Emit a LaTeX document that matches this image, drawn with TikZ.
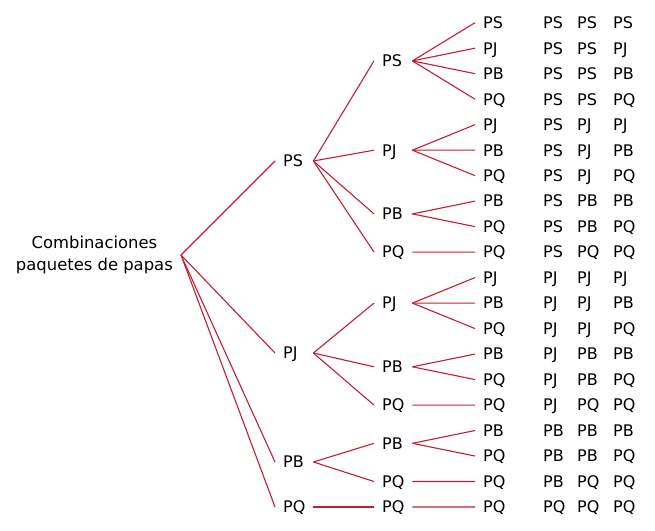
\documentclass[tikz,border=0pt]{standalone}
\usepackage{fontspec}
\setmainfont{DejaVu Sans}
\definecolor{ramared}{RGB}{196,30,48}

\begin{document}
\begin{tikzpicture}[x=1pt, y=-1pt,
  etiqueta/.style={font=\fontsize{16}{19}\selectfont, inner xsep=8pt, inner ysep=0pt, text height=11.7pt, text depth=0pt, anchor=west},
  nivel/.style={etiqueta, text width=22pt, align=left},
  rama/.style={draw=ramared, line width=1.1pt}]

\useasboundingbox (0,0) rectangle (655,530);

\node[font=\fontsize{16.4}{22}\selectfont, align=center, inner xsep=8pt, anchor=east] (raiz) at (181,255) {Combinaciones\\paquetes de papas};

\node[nivel] (PS) at (275,161) {PS};
\node[nivel] (PJ) at (275,353) {PJ};
\node[nivel] (PB) at (275,462) {PB};
\node[nivel] (PQ) at (275,507) {PQ};

\node[nivel] (PS-PS) at (374,60.9) {PS};
\node[nivel] (PS-PJ) at (374,150.2) {PJ};
\node[nivel] (PS-PB) at (374,213.9) {PB};
\node[nivel] (PS-PQ) at (374,252.1) {PQ};
\node[nivel] (PJ-PJ) at (374,303.1) {PJ};
\node[nivel] (PJ-PB) at (374,366.8) {PB};
\node[nivel] (PJ-PQ) at (374,405.1) {PQ};
\node[nivel] (PB-PB) at (374,443.3) {PB};
\node[nivel] (PB-PQ) at (374,481.5) {PQ};
\node[nivel] (PQ-PQ) at (374,507.0) {PQ};

\foreach \hijo in {PS,PJ,PB,PQ}
  \draw[rama] (raiz.east) -- (\hijo.west);
\foreach \padre/\hijo in {PS/PS,PS/PJ,PS/PB,PS/PQ,PJ/PJ,PJ/PB,PJ/PQ,PB/PB,PB/PQ,PQ/PQ}
  \draw[rama] (\padre.east) -- (\padre-\hijo.west);

\foreach \i/\a/\b/\c/\padre in {0/PS/PS/PS/PS-PS, 1/PS/PS/PJ/PS-PS, 2/PS/PS/PB/PS-PS, 3/PS/PS/PQ/PS-PS,
    4/PS/PJ/PJ/PS-PJ, 5/PS/PJ/PB/PS-PJ, 6/PS/PJ/PQ/PS-PJ, 7/PS/PB/PB/PS-PB, 8/PS/PB/PQ/PS-PB,
    9/PS/PQ/PQ/PS-PQ, 10/PJ/PJ/PJ/PJ-PJ, 11/PJ/PJ/PB/PJ-PJ, 12/PJ/PJ/PQ/PJ-PJ, 13/PJ/PB/PB/PJ-PB,
    14/PJ/PB/PQ/PJ-PB, 15/PJ/PQ/PQ/PJ-PQ, 16/PB/PB/PB/PB-PB, 17/PB/PB/PQ/PB-PB, 18/PB/PQ/PQ/PB-PQ,
    19/PQ/PQ/PQ/PQ-PQ}
{
  \pgfmathsetmacro{\fila}{22.7+25.49*\i}
  \node[etiqueta] (hoja\i) at (475,\fila) {\c};
  \node[etiqueta] (comb\i-a) at (535,\fila) {\a};
  \node[etiqueta] (comb\i-b) at (569,\fila) {\b};
  \node[etiqueta] (comb\i-c) at (605,\fila) {\c};
  \draw[rama] (\padre.east) -- (hoja\i.west);
}

\end{tikzpicture}
\end{document}
